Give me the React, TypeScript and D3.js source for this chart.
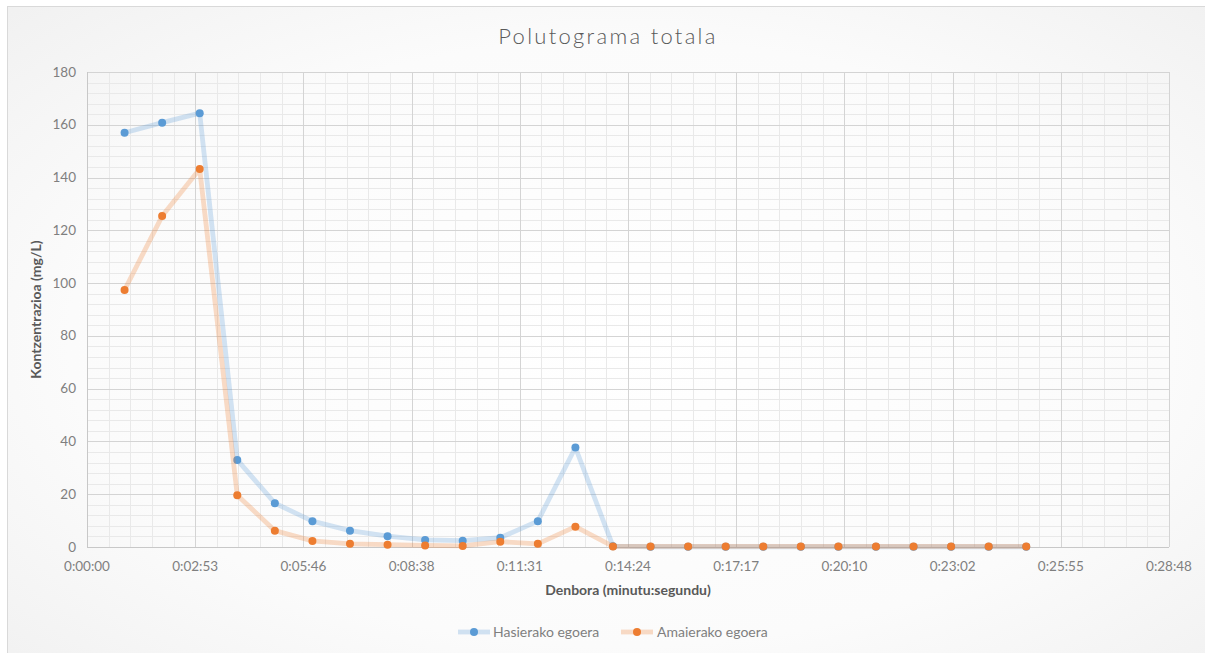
import React from "react";
import * as d3 from "d3";

const minutes = [1, 2, 3, 4, 5, 6, 7, 8, 9, 10, 11, 12, 13, 14, 15, 16, 17, 18, 19, 20, 21, 22, 23, 24, 25];
const hasierakoEgoera = [157, 160.8, 164.4, 33, 16.6, 9.8, 6.2, 4.1, 2.7, 2.4, 3.5, 9.8, 37.7, 0.3, 0.1, 0.1, 0.1, 0.1, 0.1, 0.1, 0.1, 0.1, 0.1, 0.1, 0.1];
const amaierakoEgoera = [97.4, 125.4, 143.2, 19.6, 6.2, 2.3, 1.2, 0.9, 0.6, 0.4, 2.0, 1.2, 7.7, 0.2, 0.2, 0.2, 0.2, 0.2, 0.2, 0.2, 0.2, 0.2, 0.2, 0.2, 0.2];
const xTickSeconds = [0, 172.8, 345.6, 518.4, 691.2, 864, 1036.8, 1209.6, 1382.4, 1555.2, 1728];
const xTickLabels = ["0:00:00", "0:02:53", "0:05:46", "0:08:38", "0:11:31", "0:14:24", "0:17:17", "0:20:10", "0:23:02", "0:25:55", "0:28:48"];
const yTicks = [0, 20, 40, 60, 80, 100, 120, 140, 160, 180];
const seriesNames = ["Hasierako egoera", "Amaierako egoera"];
const seriesColors = ["#5b9bd5", "#ed7d31"];

const W = 1205;
const H = 653;
const M = { left: 87, right: 1169, top: 72, bottom: 547 };
const FONT = "Lato, 'Open Sans', sans-serif";

export default function App() {
  const x = d3.scaleLinear().domain([0, 1728]).range([M.left, M.right]);
  const y = d3.scaleLinear().domain([0, 180]).range([M.bottom, M.top]);

  const minorX: number[] = [];
  for (let i = 0; i < xTickSeconds.length - 1; i++) {
    for (let k = 1; k < 5; k++) minorX.push(xTickSeconds[i] + (k * (xTickSeconds[i + 1] - xTickSeconds[i])) / 5);
  }
  const minorY: number[] = [];
  for (let i = 0; i < yTicks.length - 1; i++) {
    for (let k = 1; k < 5; k++) minorY.push(yTicks[i] + (k * (yTicks[i + 1] - yTicks[i])) / 5);
  }

  const series = [hasierakoEgoera, amaierakoEgoera];
  const line = d3
    .line<number>()
    .x((_, i) => x(minutes[i] * 60))
    .y((d) => y(d))
    .curve(d3.curveLinear);

  const legendItems = [
    { lx: 458, tx: 493 },
    { lx: 621, tx: 657 },
  ];

  return (
    <svg width={W} height={H} style={{ position: "absolute", left: 0, top: 0 }}>
      <defs>
        <radialGradient id="bg" cx="50%" cy="50%" r="75%">
          <stop offset="0%" stopColor="#ffffff" />
          <stop offset="60%" stopColor="#fbfbfb" />
          <stop offset="100%" stopColor="#efefef" />
        </radialGradient>
      </defs>
      <rect x={0} y={0} width={W} height={H} fill="#ffffff" />
      <rect x={7.5} y={6.5} width={W + 20} height={H + 20} fill="url(#bg)" stroke="#d9d9d9" strokeWidth={1} />

      {/* minor gridlines */}
      <g stroke="#e9e9e9" strokeWidth={1}>
        {minorX.map((v, i) => (
          <line key={"mx" + i} x1={Math.round(x(v)) + 0.5} x2={Math.round(x(v)) + 0.5} y1={M.top} y2={M.bottom} />
        ))}
        {minorY.map((v, i) => (
          <line key={"my" + i} x1={M.left} x2={M.right} y1={Math.round(y(v)) + 0.5} y2={Math.round(y(v)) + 0.5} />
        ))}
      </g>
      {/* major gridlines */}
      <g stroke="#d4d4d4" strokeWidth={1}>
        {xTickSeconds.map((v, i) => (
          <line key={"gx" + i} x1={Math.round(x(v)) + 0.5} x2={Math.round(x(v)) + 0.5} y1={M.top} y2={M.bottom} />
        ))}
        {yTicks.map((v, i) => (
          <line key={"gy" + i} x1={M.left} x2={M.right} y1={Math.round(y(v)) + 0.5} y2={Math.round(y(v)) + 0.5} />
        ))}
      </g>
      {/* axis lines */}
      <g stroke="#c8c8c8" strokeWidth={1}>
        <line x1={M.left + 0.5} x2={M.left + 0.5} y1={M.top} y2={M.bottom} />
        <line x1={M.left} x2={M.right} y1={M.bottom + 0.5} y2={M.bottom + 0.5} />
      </g>

      {/* series */}
      {series.map((s, si) => (
        <g key={"s" + si}>
          <path d={line(s) || ""} fill="none" stroke={seriesColors[si]} strokeOpacity={0.27} strokeWidth={4.8} strokeLinejoin="round" strokeLinecap="round" />
          {s.map((v, i) => (
            <circle key={i} cx={x(minutes[i] * 60)} cy={y(v)} r={4} fill={seriesColors[si]} />
          ))}
        </g>
      ))}

      {/* y tick labels */}
      <g fontFamily={FONT} fontSize={13.5} fill="#7f7f7f" textAnchor="end">
        {yTicks.map((v, i) => (
          <text key={"yt" + i} x={76} y={y(v) + 4.5}>
            {v}
          </text>
        ))}
      </g>
      {/* x tick labels */}
      <g fontFamily={FONT} fontSize={13.5} fill="#7f7f7f" textAnchor="middle">
        {xTickSeconds.map((v, i) => (
          <text key={"xt" + i} x={x(v)} y={571}>
            {xTickLabels[i]}
          </text>
        ))}
      </g>

      {/* title */}
      <text x={608} y={44} textAnchor="middle" fontFamily={FONT} fontWeight={300} fontSize={22} letterSpacing={2.3} fill="#595959">
        Polutograma totala
      </text>
      {/* axis titles */}
      <text x={628} y={595} textAnchor="middle" fontFamily={FONT} fontWeight={700} fontSize={14} fill="#595959">
        Denbora (minutu:segundu)
      </text>
      <text
        transform={`translate(41,${(M.top + M.bottom) / 2}) rotate(-90)`}
        textAnchor="middle"
        fontFamily={FONT}
        fontWeight={700}
        fontSize={14}
        fill="#595959"
      >
        Kontzentrazioa (mg/L)
      </text>

      {/* legend */}
      {legendItems.map((li, i) => (
        <g key={"lg" + i}>
          <line x1={li.lx} x2={li.lx + 32} y1={632} y2={632} stroke={seriesColors[i]} strokeOpacity={0.27} strokeWidth={4.8} />
          <circle cx={li.lx + 16} cy={632} r={4} fill={seriesColors[i]} />
          <text x={li.tx} y={637} fontFamily={FONT} fontSize={14} fill="#7f7f7f">
            {seriesNames[i]}
          </text>
        </g>
      ))}
    </svg>
  );
}
